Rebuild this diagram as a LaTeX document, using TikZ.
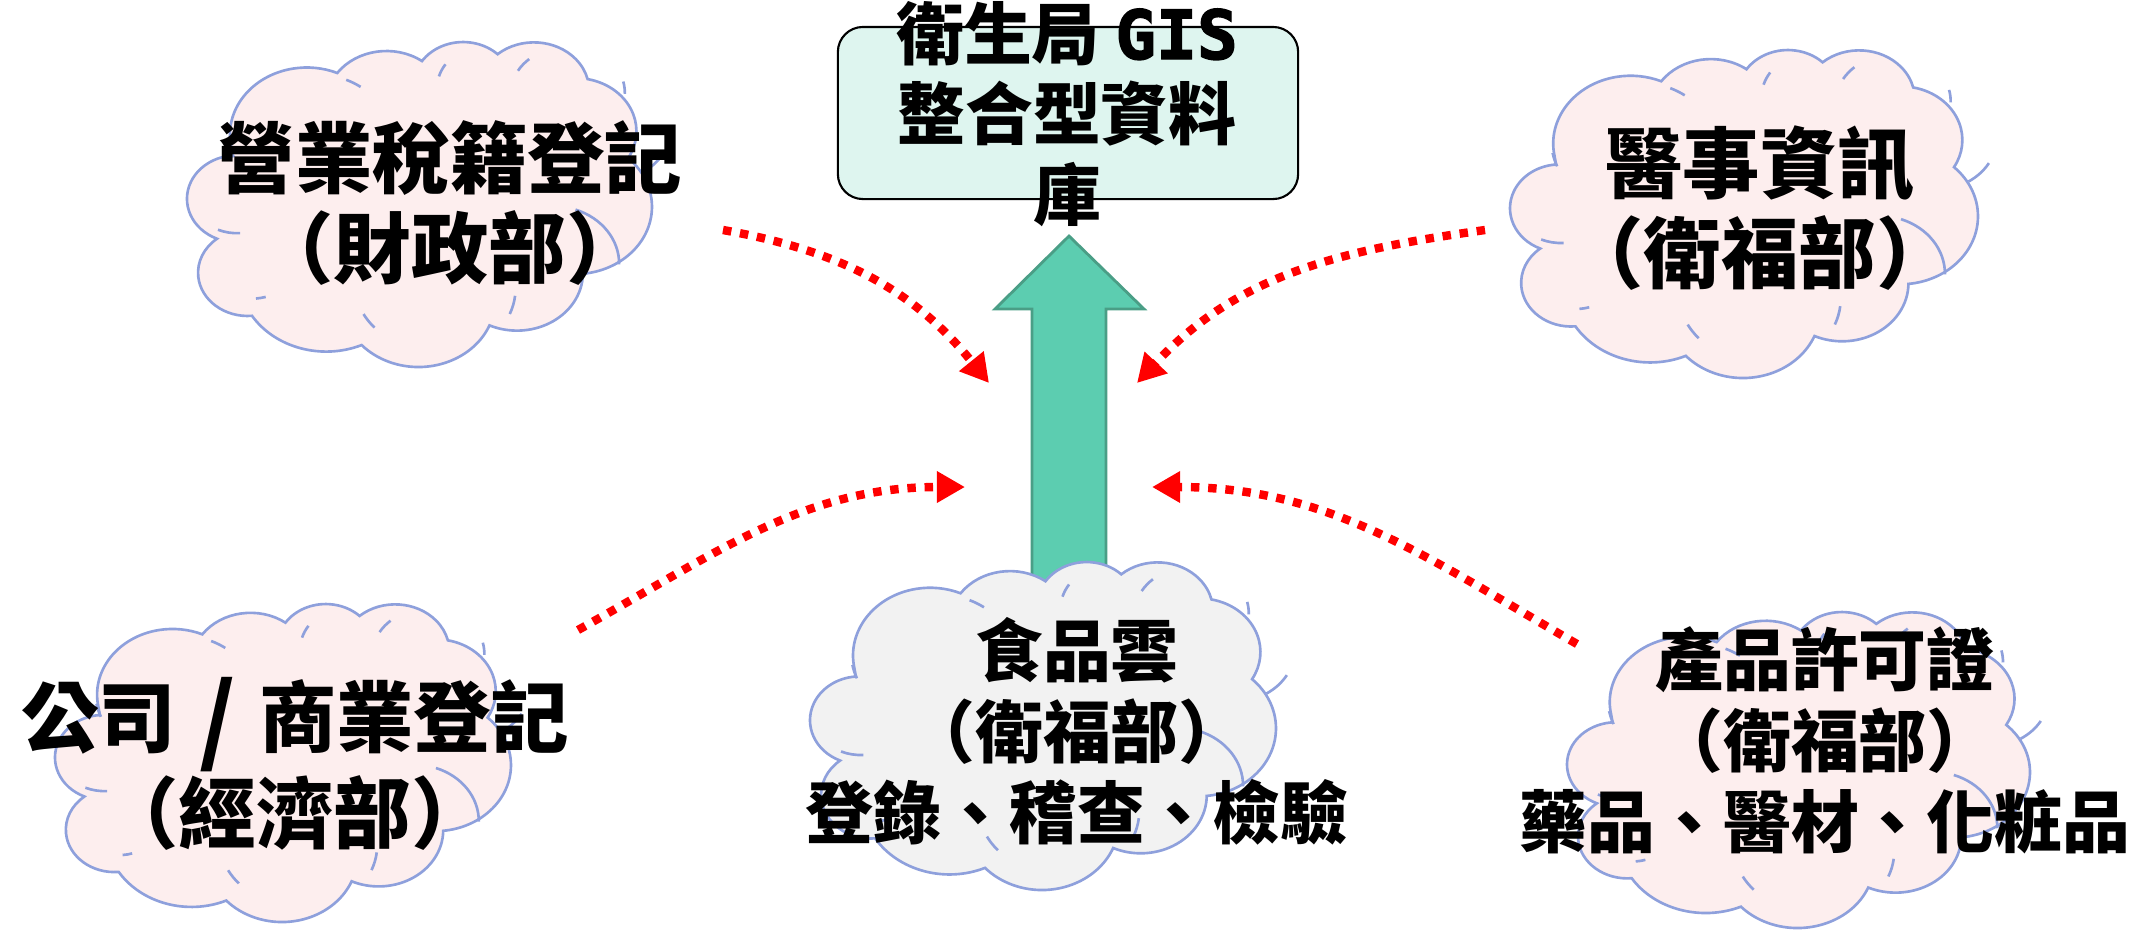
\documentclass[tikz,border=0pt]{standalone}
\usepackage{fontspec}
\usepackage{tikz}
\usetikzlibrary{arrows.meta, positioning}
\newfontfamily\cjk{Noto Sans CJK TC}
\newfontfamily\gisfont{DejaVu Sans Mono}[FakeBold=2]
\definecolor{nuvemrosa}{HTML}{FDEEEE}
\definecolor{nuvemcinza}{HTML}{F2F2F2}
\definecolor{nuvemborda}{HTML}{8EA0DC}
\definecolor{caixaverde}{HTML}{DEF5EF}
\definecolor{setaverde}{HTML}{5CCDB0}
\definecolor{setaborda}{HTML}{4A9E86}

%% nuvem: esquerda, topo, largura, altura, cor
\newcommand{\nuvem}[5]{%
  \begin{scope}[shift={(#1,#2)}, x={#3*0.01cm/40.83}, y={-#4*0.01cm/44.47}, shift={(-0.018,-0.02)}]
    \filldraw[draw=nuvemborda, line width=0.75pt, fill=#5] (3.9,14.37)
      \foreach \rw/\rh/\st/\sw
        in {6.753/9.19/-190.4875/123.7805, 5.333/7.267/-144.1024/89.9452,
            4.365/5.945/-145.8079/99.7230, 4.857/6.595/-130.9861/117.2417,
            5.333/7.273/-78.7089/109.0269, 6.775/9.22/-46.2673/130.2690,
            5.785/7.867/0.6250/114.0333, 6.752/9.215/22.4516/115.1726,
            7.72/10.543/66.2426/81.3690, 4.36/5.918/-274.9421/146.7356,
            4.345/5.945/-246.8285/152.5189}
        { arc[start angle=\st, delta angle=\sw, x radius=\rw, y radius=\rh] } -- cycle;
    \draw[nuvemborda, line width=0.75pt]
      \foreach \mx/\my/\rw/\rh/\st/\sw
        in {4.693/26.177/4.345/5.945/86.7420/26.4295, 6.928/34.899/4.36/5.918/73.6105/11.4475,
            16.478/39.09/6.752/9.215/137.6242/14.0811, 28.827/34.751/6.752/9.215/6.4533/15.9984,
            34.129/22.954/5.785/7.867/-70.2924/70.9174, 41.798/15.354/5.333/7.273/30.3180/27.7515,
            38.324/5.426/4.857/6.595/-13.7443/14.8589, 29.078/3.952/4.857/6.595/-149.1815/18.1954,
            22.141/4.72/4.365/5.945/-163.4943/17.6864, 14/5.192/6.753/9.19/-66.7070/12.3194,
            4.127/15.789/6.753/9.19/157.6544/11.8582}
        { (\mx,\my) arc[start angle=\st, delta angle=\sw, x radius=\rw, y radius=\rh] };
  \end{scope}}

\begin{document}
\begin{tikzpicture}[x=0.01cm, y=-0.01cm,
    txtgrande/.style={font=\cjk\bfseries\fontsize{22}{25.6}\selectfont, align=center, inner sep=0pt},
    txtmedio/.style={font=\cjk\bfseries\fontsize{19.3}{23}\selectfont, align=center, inner sep=0pt},
    fluxo/.style={red, line width=2.4pt, dash pattern=on 2.4pt off 2.5pt,
      -{Triangle[length=8pt, width=8.5pt]}}]
	\useasboundingbox (0,0) rectangle (2152,935);

	%% Banco de dados
	\node[draw, rounded corners=0.25cm, fill=caixaverde, line width=0.6pt,
	  minimum width=4.6cm, minimum height=1.72cm] (gis) at (1068,113) {};

	%% Seta para cima
	\filldraw[fill=setaverde, draw=setaborda, line width=0.8pt]
	  (1032,620) -- (1032,309) -- (995,309) -- (1069,236) -- (1144,309) -- (1106,309) -- (1106,620) -- cycle;

	%% Nuvens
	\nuvem{187}{42}{465}{325}{nuvemrosa}
	\nuvem{1510}{50}{468}{328}{nuvemrosa}
	\nuvem{55}{604}{456}{318}{nuvemrosa}
	\nuvem{810}{562}{466}{328}{nuvemcinza}
	\nuvem{1567}{612}{463}{316}{nuvemrosa}

	%% Textos
	\node[txtmedio] (gisTxt) at (1067,114) {衛生局 {\gisfont GIS}\\整合型資料\\庫};
	\node[txtgrande] (tlTxt) at (450,203) {營業稅籍登記\\（財政部）};
	\node[txtgrande] (trTxt) at (1760,208) {醫事資訊\\（衛福部）};
	\node[txtgrande] (blTxt) at (295,764) {公司\hspace{0.3em}\raisebox{-0.1em}{\fontsize{27}{27}\selectfont /}\hspace{0.3em}商業登記\\（經濟部）};
	\node[txtmedio] (cTxt) at (1077,731) {食品雲\\（衛福部）\\登錄、稽查、檢驗};
	\node[txtmedio] (brTxt) at (1825,740) {產品許可證\\（衛福部）\\藥品、醫材、化粧品};

	%% Fluxos
	\coordinate (tlIni) at (723,230);  \coordinate (tlFim) at (989,383);
	\coordinate (trIni) at (1485,230); \coordinate (trFim) at (1137,383);
	\coordinate (blIni) at (578,630);  \coordinate (blFim) at (965,487);
	\coordinate (brIni) at (1577,644); \coordinate (brFim) at (1152,487);
	\draw[fluxo] (tlIni) to[out=-10, in=129] (tlFim);
	\draw[fluxo] (trIni) to[out=188, in=47] (trFim);
	\draw[fluxo] (blIni) to[out=29, in=180] (blFim);
	\draw[fluxo] (brIni) to[out=150, in=0] (brFim);
\end{tikzpicture}
\end{document}
